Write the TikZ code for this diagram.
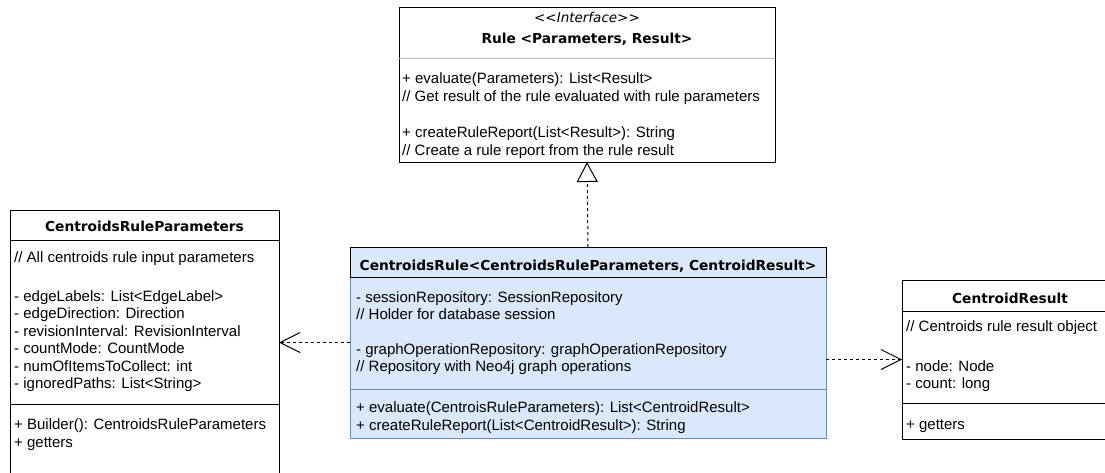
\documentclass[tikz,border=0pt]{standalone}
\usepackage{fontspec}
\newfontfamily\bodyf{Liberation Sans}
\newfontfamily\headf{DejaVu Sans}
\usetikzlibrary{arrows.meta}
\definecolor{blueFill}{HTML}{DAE8FC}
\definecolor{blueLine}{HTML}{6C8EBF}
\tikzset{
  txt/.style={anchor=base west, inner sep=0pt, font=\bodyf\fontsize{15}{18}\selectfont},
  ttl/.style={anchor=base, inner sep=0pt, font=\headf\bfseries\fontsize{13.75}{16}\selectfont},
  stereo/.style={anchor=base, inner sep=0pt, font=\headf\itshape\fontsize{13.5}{16}\selectfont},
  classbox/.style={draw=black, fill=white, line width=1pt, inner sep=0pt, outer sep=0pt, anchor=north west},
  sep/.style={line width=1pt},
  dep/.style={dash pattern=on 3pt off 3pt, line width=1pt, -{Straight Barb[length=20pt,width=20pt]}},
  real/.style={dash pattern=on 3pt off 3pt, line width=1pt, -{Triangle[open,length=20pt,width=21pt,fill=white]}},
}
\begin{document}
\begin{tikzpicture}[x=1pt, y=-1pt]
\useasboundingbox (0,0) rectangle (1105,472);
\clip (0,0) rectangle (1105,472);

% interface Rule
\node[classbox, minimum width=376pt, minimum height=155pt] (iface) at (399,7) {};
\draw[sep, gray!55] (399,58) -- (775,58);
\node[stereo] (ifst) at (587,22) {<<Interface>>};
\node[ttl] (ifnm) at (587,43.5) {Rule <Parameters, Result>};
\node[txt] (if1) at (402,83) {+ evaluate(Parameters): List<Result>};
\node[txt] (if2) at (402,101) {// Get result of the rule evaluated with rule parameters};
\node[txt] (if3) at (402,137) {+ createRuleReport(List<Result>): String};
\node[txt] (if4) at (402,155) {// Create a rule report from the rule result};

% CentroidsRuleParameters
\node[classbox, minimum width=269pt, minimum height=270pt] (left) at (10,210) {};
\draw[sep] (10,240) -- (279,240);
\draw[sep] (10,404) -- (279,404);
\node[ttl] (lt) at (144.5,231) {CentroidsRuleParameters};
\node[txt] (l0) at (14,262) {// All centroids rule input parameters};
\node[txt] (l1) at (14,301) {- edgeLabels: List<EdgeLabel>};
\node[txt] (l2) at (14,318.5) {- edgeDirection: Direction};
\node[txt] (l3) at (14,336) {- revisionInterval: RevisionInterval};
\node[txt] (l4) at (14,353.5) {- countMode: CountMode};
\node[txt] (l5) at (14,371) {- numOfItemsToCollect: int};
\node[txt] (l6) at (14,388.5) {- ignoredPaths: List<String>};
\node[txt] (l7) at (14,429.5) {+ Builder(): CentroidsRuleParameters};
\node[txt] (l8) at (14,447.5) {+ getters};

% CentroidsRule
\node[classbox, draw=blueLine, fill=blueFill, minimum width=476pt, minimum height=191pt] (mid) at (350,247) {};
\draw[sep, blueLine] (350,389) -- (826,389);
\draw[sep, black] (350,277) -- (350,247) -- (826,247) -- (826,277) -- cycle;
\node[ttl] (mt) at (588,270) {CentroidsRule<CentroidsRuleParameters, CentroidResult>};
\node[txt] (m1) at (356,302) {- sessionRepository: SessionRepository};
\node[txt] (m2) at (356,319.5) {// Holder for database session};
\node[txt] (m3) at (356,354) {- graphOperationRepository: graphOperationRepository};
\node[txt] (m4) at (356,371.5) {// Repository with Neo4j graph operations};
\node[txt] (m5) at (356,412.5) {+ evaluate(CentroisRuleParameters): List<CentroidResult>};
\node[txt] (m6) at (356,430) {+ createRuleReport(List<CentroidResult>): String};

% CentroidResult
\node[classbox, minimum width=216pt, minimum height=159pt] (right) at (902,280) {};
\draw[sep] (902,311) -- (1118,311);
\draw[sep] (902,403) -- (1118,403);
\node[ttl] (rt) at (1010,303) {CentroidResult};
\node[txt] (r0) at (906,331) {// Centroids rule result object};
\node[txt] (r1) at (906,371) {- node: Node};
\node[txt] (r2) at (906,388) {- count: long};
\node[txt] (r3) at (906,429) {+ getters};

% relations
\draw[real] (mid.north) -- (iface.south);
\draw[dep] (mid.west) -- (mid.west -| left.east);
\draw[dep] (mid.east |- right.west) -- (right.west);
\end{tikzpicture}
\end{document}
